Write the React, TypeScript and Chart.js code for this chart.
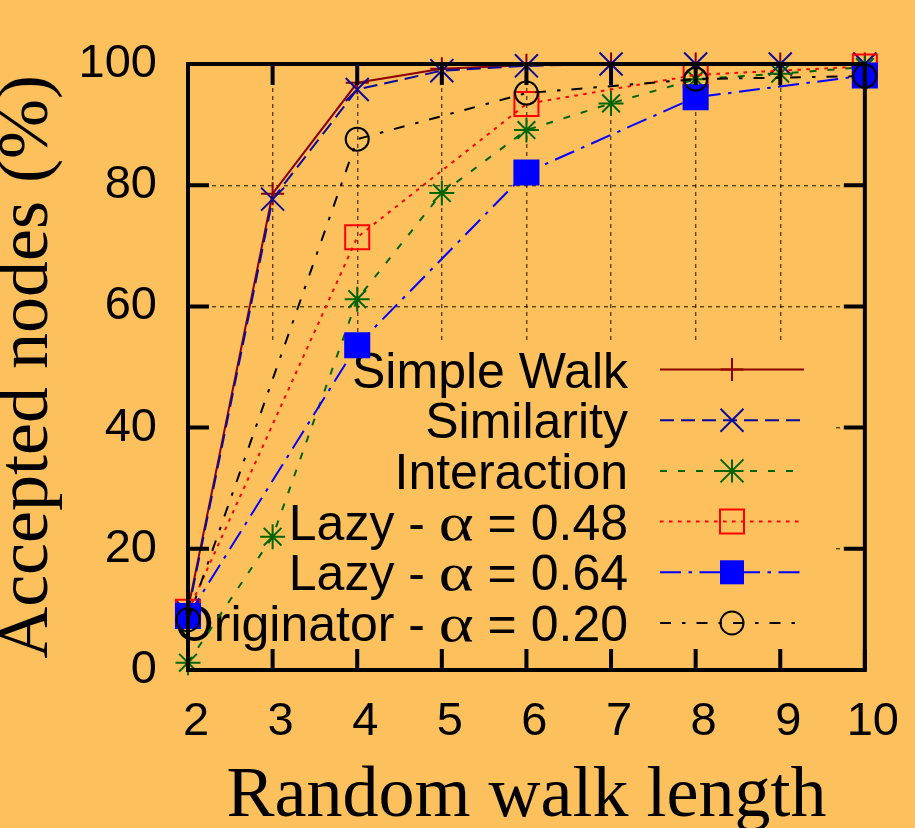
import React, { useEffect, useRef } from 'react';
import { Chart, registerables } from 'chart.js';

Chart.register(...registerables);

// ---- data ----
const xAll = [2, 3, 4, 5, 6, 7, 8, 9, 10];
const xEven = [2, 4, 6, 8, 10];
const simpleWalk = [10, 78.6, 96.9, 99.2, 99.8, 100, 100, 100, 100];
const similarity = [9.5, 77.7, 95.8, 98.9, 99.7, 100, 100, 100, 100];
const interaction = [1.2, 22, 61.2, 78.7, 89.1, 93.5, 97.5, 98.4, 99.5];
const lazy048 = [9.6, 71.4, 93.4, 98.2, 99.6];
const lazy064 = [8.9, 53.6, 82.1, 94.5, 98.1];
const originator = [8.3, 87.6, 95.2, 97.5, 98];
const seriesLabels = [
  'Simple Walk',
  'Similarity',
  'Interaction',
  'Lazy - α = 0.48',
  'Lazy - α = 0.64',
  'Originator - α = 0.20',
];
const xTitle = 'Random walk length';
const yTitle = 'Accepted nodes (%)';

const BG = '#FCC05C';
const SANS = "'Liberation Sans', Arial, sans-serif";
const SERIF = "'Liberation Serif', 'Times New Roman', serif";

type Style = {
  color: string;
  dash: number[];
  point: string;
  radius: number;
  fill: boolean;
};

const styles: Style[] = [
  { color: '#8b0000', dash: [], point: 'cross', radius: 11.5, fill: false },
  { color: '#0a0a9b', dash: [14, 7], point: 'crossRot', radius: 16.3, fill: false },
  { color: '#006400', dash: [7, 11], point: 'star', radius: 12.5, fill: false },
  { color: '#ff0000', dash: [3.5, 5.5], point: 'rect', radius: 17, fill: false },
  { color: '#0000ff', dash: [21, 7.5, 3.5, 7.5], point: 'rect', radius: 17, fill: true },
  { color: '#000000', dash: [11, 11, 3.5, 11], point: 'circle', radius: 11.5, fill: false },
];

function pts(xs: number[], ys: number[]) {
  return ys.map((y, i) => ({ x: xs[i], y }));
}

function drawMarker(ctx: CanvasRenderingContext2D, st: Style, x: number, y: number) {
  ctx.save();
  ctx.setLineDash([]);
  ctx.strokeStyle = st.color;
  ctx.fillStyle = st.color;
  ctx.lineWidth = 2;
  const s = 11.5;
  ctx.beginPath();
  if (st.point === 'cross' || st.point === 'star') {
    ctx.moveTo(x - s, y); ctx.lineTo(x + s, y);
    ctx.moveTo(x, y - s); ctx.lineTo(x, y + s);
  }
  if (st.point === 'crossRot' || st.point === 'star') {
    ctx.moveTo(x - s, y - s); ctx.lineTo(x + s, y + s);
    ctx.moveTo(x - s, y + s); ctx.lineTo(x + s, y - s);
  }
  if (st.point === 'rect') {
    if (st.fill) ctx.fillRect(x - 12, y - 12, 24, 24);
    else ctx.rect(x - 12, y - 12, 24, 24);
  }
  if (st.point === 'circle') {
    ctx.arc(x, y, 11.5, 0, Math.PI * 2);
  }
  ctx.stroke();
  ctx.restore();
}

function drawLabel(ctx: CanvasRenderingContext2D, text: string, right: number, baseline: number) {
  const parts = text.split('α');
  let x = right;
  ctx.textAlign = 'right';
  ctx.textBaseline = 'alphabetic';
  ctx.fillStyle = '#000';
  for (let i = parts.length - 1; i >= 0; i--) {
    const p = parts[i];
    if (p) {
      ctx.font = `50px ${SANS}`;
      ctx.fillText(p, x, baseline);
      x -= ctx.measureText(p).width;
    }
    if (i > 0) {
      ctx.font = `52px ${SERIF}`;
      const w = ctx.measureText('α').width;
      const sx = 1.28;
      ctx.save();
      ctx.translate(x - w * sx, baseline);
      ctx.scale(sx, 1);
      ctx.textAlign = 'left';
      ctx.fillText('α', 0, 0);
      ctx.restore();
      x -= w * sx;
    }
  }
}

const framePlugin = {
  id: 'gnuplotFrame',
  beforeDraw(chart: any) {
    const ctx = chart.ctx as CanvasRenderingContext2D;
    ctx.save();
    ctx.fillStyle = BG;
    ctx.fillRect(0, 0, chart.width, chart.height);
    ctx.restore();
  },
  beforeDatasetsDraw(chart: any) {
    const ctx = chart.ctx as CanvasRenderingContext2D;
    const area = chart.chartArea;
    ctx.save();
    // opaque key box
    ctx.fillStyle = BG;
    ctx.fillRect(area.left + 2, 344, 836 - area.left - 2, 653 - 344);
    // key entries
    const rowY0 = 369.5;
    const rowStep = 50.7;
    seriesLabels.forEach((label, i) => {
      const y = rowY0 + i * rowStep;
      drawLabel(ctx, label, 628, y + 18);
      const st = styles[i];
      ctx.save();
      ctx.strokeStyle = st.color;
      ctx.lineWidth = 2;
      ctx.setLineDash(st.dash);
      ctx.beginPath();
      ctx.moveTo(660, y);
      ctx.lineTo(804, y);
      ctx.stroke();
      ctx.restore();
      drawMarker(ctx, st, 732, y);
    });
    ctx.restore();
  },
  afterDatasetsDraw(chart: any) {
    const ctx = chart.ctx as CanvasRenderingContext2D;
    const { left, right, top, bottom } = chart.chartArea;
    const xs = chart.scales.x;
    const ys = chart.scales.y;
    ctx.save();
    ctx.strokeStyle = '#000';
    ctx.lineWidth = 4;
    ctx.setLineDash([]);
    const tl = 21;
    ctx.beginPath();
    xs.ticks.forEach((t: any) => {
      const px = xs.getPixelForValue(t.value);
      ctx.moveTo(px, bottom); ctx.lineTo(px, bottom - tl);
      ctx.moveTo(px, top); ctx.lineTo(px, top + tl);
    });
    ys.ticks.forEach((t: any) => {
      const py = ys.getPixelForValue(t.value);
      ctx.moveTo(left, py); ctx.lineTo(left + tl, py);
      ctx.moveTo(right, py); ctx.lineTo(right - tl, py);
    });
    ctx.stroke();
    ctx.strokeRect(left, top, right - left, bottom - top);
    ctx.restore();
  },
};

export default function App() {
  const ref = useRef<HTMLCanvasElement>(null);
  useEffect(() => {
    document.body.style.margin = '0';
    document.body.style.background = BG;
    const canvas = ref.current!;
    const datasets = [
      { data: pts(xAll, simpleWalk) },
      { data: pts(xAll, similarity) },
      { data: pts(xAll, interaction) },
      { data: pts(xEven, lazy048) },
      { data: pts(xEven, lazy064) },
      { data: pts(xEven, originator) },
    ].map((d, i) => {
      const st = styles[i];
      return {
        label: seriesLabels[i],
        data: d.data,
        borderColor: st.color,
        backgroundColor: st.color,
        borderWidth: 2,
        borderDash: st.dash,
        pointStyle: st.point,
        pointRadius: st.radius,
        pointHoverRadius: st.radius,
        pointBorderWidth: 2,
        pointBorderColor: st.color,
        pointBackgroundColor: st.fill ? st.color : 'rgba(0,0,0,0)',
        tension: 0,
        fill: false,
        clip: false as any,
        order: 5 - i,
      };
    });
    const chart = new Chart(canvas, {
      type: 'line',
      data: { datasets },
      plugins: [framePlugin],
      options: {
        animation: false,
        responsive: false,
        events: [],
        layout: { padding: { left: 0, top: 64, right: 50, bottom: 0 } },
        plugins: { legend: { display: false }, tooltip: { enabled: false } },
        scales: {
          x: {
            type: 'linear',
            min: 2,
            max: 10,
            ticks: {
              stepSize: 1,
              color: '#000',
              font: { family: SANS, size: 47 },
              padding: 24,
              labelOffset: 8,
              maxRotation: 0,
              autoSkip: false,
            },
            grid: { color: 'rgba(0,0,0,0.65)', lineWidth: 1.4, drawTicks: false },
            border: { display: false, dash: [4, 4] },
            title: {
              display: true,
              text: xTitle,
              color: '#000',
              font: { family: SERIF, size: 72, lineHeight: 0.87 },
              padding: 0,
            },
            afterFit: (s: any) => { s.height = 158; },
          },
          y: {
            type: 'linear',
            min: 0,
            max: 100,
            ticks: {
              stepSize: 20,
              color: '#000',
              font: { family: SANS, size: 47 },
              padding: 31,
            },
            grid: { color: 'rgba(0,0,0,0.65)', lineWidth: 1.4, drawTicks: false },
            border: { display: false, dash: [4, 4] },
            title: {
              display: true,
              text: yTitle,
              color: '#000',
              font: { family: SERIF, size: 72, lineHeight: 0.77 },
              padding: 0,
            },
            afterFit: (s: any) => { s.width = 188; },
          },
        },
      } as any,
    });
    return () => chart.destroy();
  }, []);
  return (
    <div style={{ width: 915, height: 828, background: BG }}>
      <canvas ref={ref} width={915} height={828} style={{ display: 'block', width: 915, height: 828 }} />
    </div>
  );
}
